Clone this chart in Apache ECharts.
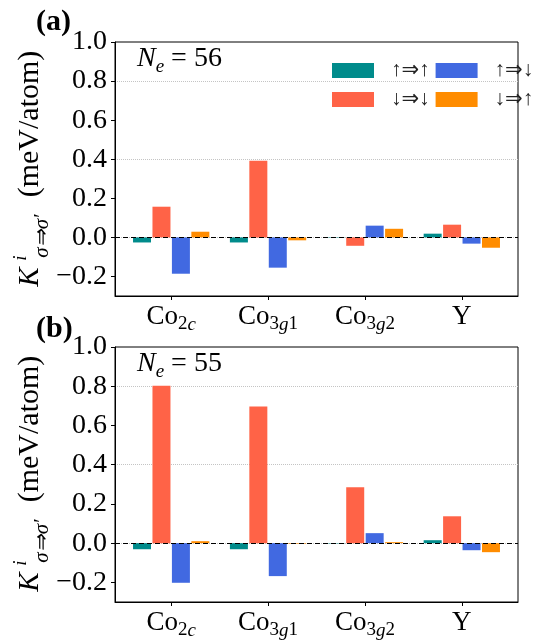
<!DOCTYPE html>
<html>
<head>
<meta charset="utf-8">
<script src="https://cdn.jsdelivr.net/npm/echarts@6/dist/echarts.min.js"></script>
<style>
html, body { margin: 0; padding: 0; background: #fff; }
#chart { width: 559px; height: 644px; }
</style>
</head>
<body>
<div id="chart"></div>
<script>
// sites and spin channels
var sites = ['Co2c', 'Co3g1', 'Co3g2', 'Y'];
var spinLabels = ['↑⇒↑', '↓⇒↓', '↑⇒↓', '↓⇒↑'];
var spinColors = ['#008B8B', '#FF6347', '#4169E1', '#FF8C00'];
var yTicks = [-0.2, 0.0, 0.2, 0.4, 0.6, 0.8, 1.0];

// (a) Ne = 56
var kA_uu = [-0.026, -0.026, -0.002, 0.019];
var kA_dd = [0.157, 0.392, -0.043, 0.065];
var kA_ud = [-0.186, -0.155, 0.060, -0.032];
var kA_du = [0.029, -0.015, 0.044, -0.053];

// (b) Ne = 55
var kB_uu = [-0.031, -0.031, -0.002, 0.015];
var kB_dd = [0.803, 0.697, 0.285, 0.137];
var kB_ud = [-0.202, -0.168, 0.051, -0.036];
var kB_du = [0.010, -0.003, 0.005, -0.046];

var panelA = [kA_uu, kA_dd, kA_ud, kA_du];
var panelB = [kB_uu, kB_dd, kB_ud, kB_du];

var serif = 'Liberation Serif';

function siteLabel(v) {
    var name = sites[Math.round(v)];
    var m = /^Co(\d)([a-z])(\d?)$/.exec(name);
    if (!m) return '{m|' + name + '}';
    return '{m|Co}{s|' + m[1] + '}{si|' + m[2] + '}' + (m[3] ? '{s|' + m[3] + '}' : '');
}

var subRich = {
    m: { fontFamily: serif, fontSize: 27, color: '#000', lineHeight: 34, verticalAlign: 'middle' },
    s: { fontFamily: serif, fontSize: 19, color: '#000', lineHeight: 34, verticalAlign: 'bottom' },
    si: { fontFamily: serif, fontSize: 19, fontStyle: 'italic', color: '#000', lineHeight: 34, verticalAlign: 'bottom' }
};

function xAxisFor(gi) {
    return {
        type: 'value', gridIndex: gi, min: -0.58, max: 3.58,
        axisLine: { show: true, onZero: false, lineStyle: { color: '#000', width: 1 } },
        splitLine: { show: false },
        axisTick: { show: true, inside: false, length: 4, customValues: [0, 1, 2, 3], lineStyle: { color: '#000' } },
        axisLabel: { customValues: [0, 1, 2, 3], margin: 4, formatter: siteLabel, rich: subRich }
    };
}

function yAxisFor(gi) {
    return {
        type: 'value', gridIndex: gi, min: -0.3, max: 1.0, interval: 0.1,
        axisLine: { show: true, onZero: false, lineStyle: { color: '#000', width: 1 } },
        splitLine: { show: true, lineStyle: { color: ['rgba(0,0,0,0)', '#c4c4c4'], type: 'dotted', width: 1 } },
        axisTick: { show: true, inside: false, length: 4, customValues: yTicks, lineStyle: { color: '#000' } },
        axisLabel: {
            customValues: yTicks, margin: 8,
            formatter: function (v) { return '{t|' + (v < -1e-9 ? '\u2212' : '') + Math.abs(v).toFixed(1) + '}'; },
            rich: { t: { fontFamily: serif, fontSize: 28, color: '#000' } }
        }
    };
}

function seriesFor(panel, gi) {
    return panel.map(function (vals, k) {
        var s = {
            name: spinLabels[k],
            type: 'bar',
            xAxisIndex: gi, yAxisIndex: gi,
            barWidth: 18, barGap: '8%',
            itemStyle: { color: spinColors[k] },
            data: vals.map(function (v, i) { return [i, v]; })
        };
        if (k === 3) {
            s.markLine = {
                silent: true, symbol: 'none', label: { show: false },
                lineStyle: { color: '#000', type: [5, 3], width: 1 },
                data: [{ yAxis: 0 }]
            };
        }
        return s;
    });
}

function rotText(x, y, text, font) {
    return {
        type: 'text', x: x, y: y, rotation: Math.PI / 2,
        style: { text: text, font: font, fill: '#000', align: 'center', verticalAlign: 'middle' }
    };
}

// y axis title K^i_{σ⇒σ'} (meV/atom), rotated
function yName(dy) {
    return [
        rotText(30, 277 + dy, 'K', 'italic 29px "' + serif + '"'),
        rotText(21, 258 + dy, 'i', 'italic 19px "' + serif + '"'),
        rotText(42, 236 + dy, 'σ⇒σ′', 'italic 21px "' + serif + '"'),
        rotText(30, 124 + dy, '(meV/atom)', '30px "' + serif + '"')
    ];
}

function neText(x, y, n) {
    return {
        type: 'text', x: x, y: y,
        style: {
            text: '{n|N}{e|e}{r| = ' + n + '}',
            verticalAlign: 'middle',
            rich: {
                n: { fontFamily: serif, fontStyle: 'italic', fontSize: 28, lineHeight: 34, verticalAlign: 'middle', fill: '#000' },
                e: { fontFamily: serif, fontStyle: 'italic', fontSize: 19, lineHeight: 34, verticalAlign: 'bottom', fill: '#000' },
                r: { fontFamily: serif, fontSize: 28, lineHeight: 34, verticalAlign: 'middle', fill: '#000' }
            }
        }
    };
}

function legendRow(top, names) {
    return {
        top: top, left: 332, width: 320, orient: 'horizontal', padding: 0,
        data: names, icon: 'rect', itemWidth: 42, itemHeight: 15, itemGap: 6,
        selectedMode: false,
        textStyle: { fontFamily: serif + ', DejaVu Sans', fontSize: 21, color: '#222', width: 38, padding: [0, 0, 0, 12] }
    };
}

var chart = echarts.init(document.getElementById('chart'));
chart.setOption({
    animation: false,
    backgroundColor: '#fff',
    grid: [
        { left: 115, top: 42, width: 403, height: 254, show: true, borderColor: '#000', borderWidth: 1, backgroundColor: 'transparent' },
        { left: 115, top: 347, width: 403, height: 255, show: true, borderColor: '#000', borderWidth: 1, backgroundColor: 'transparent' }
    ],
    legend: [
        legendRow(60, [spinLabels[0], spinLabels[2]]),
        legendRow(89, [spinLabels[1], spinLabels[3]])
    ],
    xAxis: [xAxisFor(0), xAxisFor(1)],
    yAxis: [yAxisFor(0), yAxisFor(1)],
    series: seriesFor(panelA, 0).concat(seriesFor(panelB, 1)),
    graphic: [
        { type: 'text', x: 36, y: 22, style: { text: '(a)', font: 'bold 30px "' + serif + '"', fill: '#000', verticalAlign: 'middle' } },
        { type: 'text', x: 36, y: 329, style: { text: '(b)', font: 'bold 30px "' + serif + '"', fill: '#000', verticalAlign: 'middle' } },
        neText(137, 59, 56),
        neText(137, 364, 55)
    ].concat(yName(0), yName(305))
});
</script>
</body>
</html>
